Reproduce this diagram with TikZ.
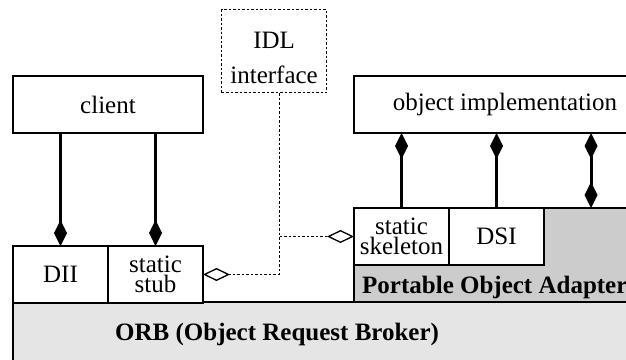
\documentclass[tikz,border=0pt]{standalone}
\usepackage{fontspec}
\setmainfont{Liberation Serif}
\usepackage{tikz}
\usetikzlibrary{arrows.meta, positioning}
\definecolor{poagray}{HTML}{CCCCCC}
\definecolor{orbgray}{HTML}{E5E5E5}

\begin{document}
\begin{tikzpicture}[
  x=1pt, y=-1pt,
  box/.style={rectangle, draw, line width=1.3pt, fill=white, inner sep=0pt, outer sep=0pt, minimum width=95pt, minimum height=57pt, align=center, font=\fontsize{25}{20}\selectfont},
  dotbox/.style={rectangle, draw, line width=1.2pt, dash pattern=on 2.5pt off 2pt, inner sep=0pt, minimum width=105pt, minimum height=83pt, align=center, font=\fontsize{25}{20}\selectfont},
  layer/.style={rectangle, draw, line width=1.3pt, inner sep=0pt, outer sep=0pt, anchor=north west},
  caption/.style={anchor=base west, inner sep=0pt, font=\fontsize{25}{30}\selectfont\bfseries},
  arrow/.style={line width=3pt, -{Diamond[length=26pt, width=13pt]}},
  dualarrow/.style={line width=3pt, {Diamond[length=26pt, width=13pt]}-{Diamond[length=26pt, width=13pt]}},
  dotarrow/.style={line width=1.2pt, dash pattern=on 2.5pt off 2pt, -{Diamond[open, length=27pt, width=13pt, line width=1.3pt]}}
]
  \useasboundingbox (0,0) rectangle (626,359);
  \clip (0,0) rectangle (626,359);

  % ORB and adapter layers
  \node[layer, fill=orbgray, minimum width=660pt, minimum height=80pt] (orb) at (13,302) {};
  \node[layer, fill=poagray, minimum width=320pt, minimum height=94pt] (poa) at (354,208) {};
  \node[caption] (orbtext) at (115,340) {ORB (Object Request Broker)};
  \node[caption] (poatext) at (362,293) {Portable Object Adapter};

  % boxes
  \node[box, anchor=north west, minimum width=190pt] (client) at (13,76) {client};
  \node[box, anchor=north west, minimum width=302pt] (impl) at (354,76) {object implementation};
  \node[dotbox, anchor=north west] (idl) at (221,9) {\rule{0pt}{30pt}IDL\\[15pt]interface};
  \node[box, anchor=north west] (dii) at (13,246) {DII};
  \node[box, right=0pt of dii] (stub) {static\\stub};
  \node[box, anchor=north west] (skel) at (354,208) {static\\skeleton};
  \node[box, right=0pt of skel] (dsi) {DSI};
  \coordinate (slot) at (591,208);
  \coordinate (drop) at ([xshift=5pt]idl.south);

  % connectors
  \draw[arrow] (dii |- client.south) -- (dii.north);
  \draw[arrow] (stub |- client.south) -- (stub.north);
  \draw[arrow] (skel.north) -- (skel |- impl.south);
  \draw[arrow] (dsi.north) -- (dsi |- impl.south);
  \draw[dualarrow] (slot) -- (slot |- impl.south);
  \draw[dotarrow] (drop) |- (stub.east);
  \draw[dotarrow] (drop) |- (skel.west);
\end{tikzpicture}
\end{document}
